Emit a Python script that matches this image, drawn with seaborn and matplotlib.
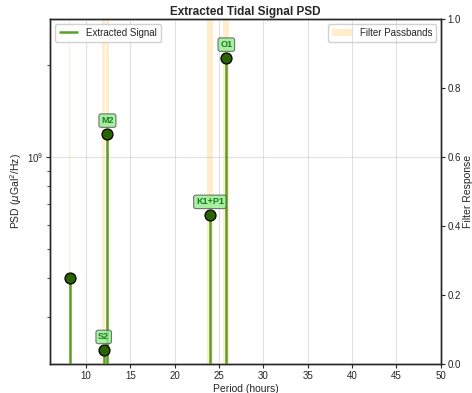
import matplotlib
matplotlib.use("Agg")
import matplotlib.pyplot as plt
import seaborn as sns
import pandas as pd
from matplotlib.ticker import LogLocator, NullFormatter

# Tidal constituent periods (hours) and their extracted PSD levels
periods = [8.15, 12.00, 12.42, 23.97, 25.82]
psd_values = [4.0e8, 2.33e8, 1.19e9, 6.45e8, 2.11e9]
constituents = ["", "S2", "M2", "K1+P1", "O1"]

# Filter passbands: relative half-width around each constituent period
band_rel_halfwidth = 0.0125

sns.set_style("ticks")
plt.rcParams["font.family"] = ["Liberation Sans", "DejaVu Sans"]
plt.rcParams["mathtext.fontset"] = "dejavusans"

df = pd.DataFrame({"period": periods, "psd": psd_values, "name": constituents})

fig = plt.figure(figsize=(4.72, 3.93), dpi=100)
ax = fig.add_axes([0.106, 0.074, 0.828, 0.878])
ax2 = ax.twinx()

# passbands on the response axis, sitting behind the signal
for p in df["period"]:
    ax2.axvspan(p * (1 - band_rel_halfwidth), p * (1 + band_rel_halfwidth),
                color="orange", alpha=0.2, lw=0,
                label="Filter Passbands" if p == df["period"].iloc[0] else None)
ax2.set_ylim(0, 1)
ax2.set_ylabel("Filter Response", fontsize=7.5, labelpad=1)
ax2.tick_params(labelsize=7, length=3, width=0.8, pad=2)
ax2.legend(loc="upper right", fontsize=7, framealpha=0.9)

ax.set_zorder(ax2.get_zorder() + 1)
ax.patch.set_visible(False)

ax.set_yscale("log")
ylo, yhi = 2.1e8, 2.83e9
ax.vlines(df["period"], 1e7, df["psd"], color="#5b9e2a", lw=1.8,
          label="Extracted Signal", zorder=3)
sns.scatterplot(data=df, x="period", y="psd", ax=ax, s=62,
                color="#2a6400", edgecolor="black", linewidth=0.9,
                zorder=4, legend=False)

for _, row in df.iterrows():
    if row["name"]:
        ax.annotate(row["name"], (row["period"], row["psd"]),
                    xytext=(0, 9.5), textcoords="offset points",
                    ha="center", va="center", fontsize=6.5,
                    fontweight="bold", color="#1f7a1f", zorder=5,
                    bbox=dict(boxstyle="round,pad=0.25", fc="lightgreen",
                              ec="#555555", alpha=0.8, lw=0.8))

ax.set_xlim(5.95, 50)
ax.set_ylim(ylo, yhi)
ax.set_xticks(range(10, 51, 5))
ax.yaxis.set_major_locator(LogLocator(base=10))
ax.yaxis.set_minor_locator(LogLocator(base=10, subs=range(2, 10)))
ax.yaxis.set_minor_formatter(NullFormatter())
ax.tick_params(which="major", labelsize=7, length=3, width=0.8, pad=2)
ax.tick_params(which="minor", length=2, width=0.6)
ax.grid(True, which="major", color="#cccccc", alpha=0.6, lw=0.8)
ax.set_xlabel("Period (hours)", fontsize=7.5, labelpad=2)
ax.set_ylabel(r"PSD ($\mu$Gal$^2$/Hz)", fontsize=7.5, labelpad=2)
ax.set_title("Extracted Tidal Signal PSD", fontsize=8.5, fontweight="bold", pad=3)
ax.legend(loc="upper left", fontsize=7, framealpha=0.9)

for a in (ax, ax2):
    for s in a.spines.values():
        s.set_linewidth(1.0)

fig.savefig("out.png", dpi=100)
